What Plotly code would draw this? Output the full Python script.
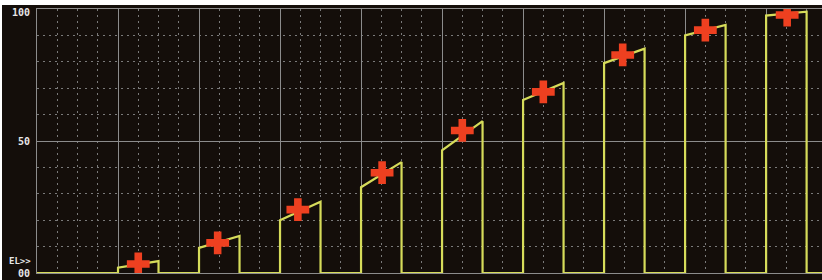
import plotly.graph_objects as go

# Data (x in grid divisions, y in %)
pulse_start = [1, 2, 3, 4, 5, 6, 7, 8, 9]
pulse_end = [1.5, 2.5, 3.5, 4.5, 5.5, 6.5, 7.5, 8.5, 9.5]
level_start = [2, 9.5, 20, 32.5, 46.5, 65.5, 79.5, 90, 97.5]
level_end = [4.5, 14, 27, 42, 57.5, 72, 85, 94, 99]
marker_x = [1.25, 2.23, 3.22, 4.26, 5.25, 6.25, 7.23, 8.25, 9.26]
marker_y = [3.4, 11.4, 24, 38, 54, 68.6, 82.6, 92, 97.7]
y_tickvals = [0, 50]
y_ticktext = ["<b>00</b>", "<b>50</b>"]
top_label = "100"
x_max = 9.69

# Build the stepped waveform
wx, wy = [0], [0]
for s, e, a, b in zip(pulse_start, pulse_end, level_start, level_end):
    wx += [s, s, e, e]
    wy += [0, a, b, 0]
wx.append(x_max)
wy.append(0)

BG = "#140e0a"
YEL = "#d6dc5a"
RED = "#ee4020"
TXT = "#e6e6e6"

fig = go.Figure()
fig.add_trace(go.Scatter(x=wx, y=wy, mode="lines",
                         line=dict(color=YEL, width=2.2), hoverinfo="skip"))
fig.add_trace(go.Scatter(x=marker_x, y=marker_y, mode="markers",
                         marker=dict(symbol="cross", size=19, color=RED,
                                     line=dict(width=0)), hoverinfo="skip"))

fig.update_layout(
    width=820, height=275,
    margin=dict(l=35, r=0, t=4, b=7),
    paper_bgcolor=BG, plot_bgcolor=BG,
    showlegend=False,
    xaxis=dict(range=[0, x_max], showticklabels=False, zeroline=False,
               dtick=1, tick0=0, showgrid=True, gridcolor="#8c8c8c", gridwidth=1,
               minor=dict(dtick=0.25, tick0=0, showgrid=True, gridcolor="#7a7a7a",
                          griddash="2px,4px", gridwidth=1),
               showline=True, linecolor="#8c8c8c", mirror=True, ticks=""),
    yaxis=dict(range=[0, 100], zeroline=False, tickvals=y_tickvals, ticktext=y_ticktext,
               showgrid=True, gridcolor="#8c8c8c", gridwidth=1,
               minor=dict(dtick=10, tick0=0, showgrid=True, gridcolor="#7a7a7a",
                          griddash="2px,4px", gridwidth=1),
               tickfont=dict(family="DejaVu Sans Mono", size=10, color=TXT),
               showline=True, linecolor="#8c8c8c", mirror=True, ticks="", ticklabelstandoff=4),
    font=dict(family="DejaVu Sans Mono", color=TXT),
)

# top "100" label (placed as annotation so it is not dropped at the edge)
fig.add_annotation(x=0, y=1, xref="paper", yref="paper", text="<b>" + top_label + "</b>",
                   showarrow=False, xanchor="right", yanchor="top", xshift=-5, yshift=4,
                   font=dict(family="DejaVu Sans Mono", size=10, color=TXT))

# "EL>>" channel label at left
fig.add_annotation(x=0, y=4.5, xref="paper", yref="y", text="<b>EL>></b>",
                   showarrow=False, xanchor="right", xshift=-4,
                   font=dict(family="DejaVu Sans Mono", size=9, color=TXT))

fig.write_html(
    "out.html",
    config={"displayModeBar": False, "staticPlot": True},
    post_script=(
        "document.body.style.margin='0';"
        "document.body.style.overflow='hidden';"
        "document.body.style.background='white';"
        "var d=document.querySelector('.plotly-graph-div');"
        "d.style.marginTop='5px';d.style.marginLeft='2px';"
    ),
)
